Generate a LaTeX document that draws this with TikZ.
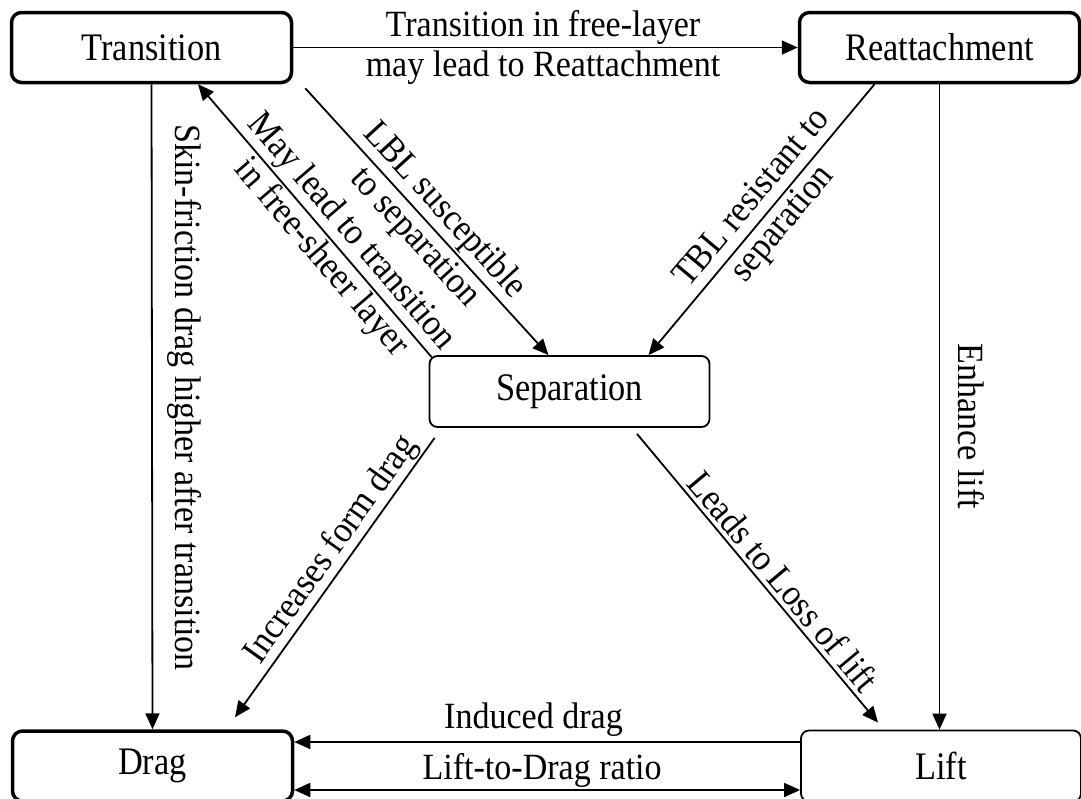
\documentclass[tikz,border=0pt]{standalone}
\usepackage{fontspec}
\setmainfont{Liberation Serif}[FakeStretch=0.92]
\newfontfamily\boxfont{Liberation Serif}[FakeStretch=0.88]
\usetikzlibrary{arrows.meta,calc}
\tikzset{
  thickbox/.style={draw=black, line width=3.5pt, rounded corners=10pt, fill=white,
    minimum width=280pt, minimum height=70pt, inner sep=0pt,
    font=\boxfont\fontsize{39}{42}\selectfont},
  thinbox/.style={draw=black, line width=1.8pt, rounded corners=8pt, fill=white,
    minimum width=280pt, minimum height=71pt, inner sep=0pt,
    font=\boxfont\fontsize{39}{42}\selectfont},
  arr/.style={line width=1.8pt, -{Triangle[length=16pt,width=14pt]}},
  darr/.style={line width=1.8pt, {Triangle[length=16pt,width=14pt]}-{Triangle[length=16pt,width=14pt]}},
  twolbl/.style={align=center, inner sep=0pt, font=\fontsize{37}{40}\selectfont},
  onelbl/.style={inner sep=1pt, font=\fontsize{37}{40}\selectfont},
}
\begin{document}
\begin{tikzpicture}[x=1pt,y=-1pt]
\useasboundingbox (0,0) rectangle (1081,798);

\node[thickbox] (trans) at (151.5,47.5) {Transition};
\node[thickbox] (reat)  at (939.5,47.5) {Reattachment};
\node[thinbox]  (sep)   at (569.5,391.5) {Separation};
\node[thickbox] (drag)  at (152.5,766) {Drag};
\node[thinbox]  (lift)  at (941,766) {Lift};

% Transition -> Reattachment
\draw[arr] (trans.east) -- node[twolbl, pos=0.495, name=ltr]
  {Transition in free-layer\\may lead to Reattachment} (reat.west);

% Transition -> Drag
\draw[arr] (trans.south) -- node[onelbl, rotate=-90, anchor=south, inner ysep=15pt, pos=0.486, name=lskin]
  {Skin-friction drag higher after transition} (drag.north);

% Separation -> Transition
\draw[arr] ([xshift=3pt,yshift=-2pt]sep.north west) -- node[twolbl, sloped, pos=0.41, name=lmay]
  {May lead to transition\\in free-sheer layer} ([xshift=46.5pt]trans.south);

% Transition -> Separation
\draw[arr] ([xshift=12pt,yshift=-4pt]trans.south east) -- node[twolbl, sloped, pos=0.51, name=llbl]
  {LBL susceptible\\to separation} ([xshift=-21pt]sep.north);

% Reattachment -> Separation
\draw[arr] ([xshift=-65pt]reat.south) -- node[twolbl, sloped, pos=0.47, name=ltbl]
  {TBL resistant to\\separation} ([xshift=79pt]sep.north);

% Reattachment -> Lift
\draw[arr] (reat.south) -- node[onelbl, rotate=-90, anchor=south, inner ysep=18pt, pos=0.53, name=lenh]
  {Enhance lift} (reat.south |- lift.north);

% Separation -> Drag
\draw[arr] ([xshift=6pt,yshift=-10pt]sep.south west) -- node[onelbl, sloped, above, pos=0.44, name=linc]
  {Increases form drag} ([xshift=82.5pt,yshift=12pt]drag.north);

% Separation -> Lift
\draw[arr] ([xshift=67.5pt,yshift=-6pt]sep.south) -- node[onelbl, sloped, above=3pt, pos=0.55, name=llead]
  {Leads to Loss of lift} ([xshift=-63pt,yshift=7pt]lift.north);

% Lift -> Drag (induced drag)
\draw[arr] ([yshift=24pt]lift.west) -- node[onelbl, above=4pt, pos=0.527, name=lind]
  {Induced drag} ([yshift=24pt]drag.east);

% Lift <-> Drag ratio
\draw[darr] ([yshift=-24pt]drag.east) -- node[onelbl, above=1pt, pos=0.49, name=lratio]
  {Lift-to-Drag ratio} ([yshift=-24pt]lift.west);
\end{tikzpicture}
\end{document}
